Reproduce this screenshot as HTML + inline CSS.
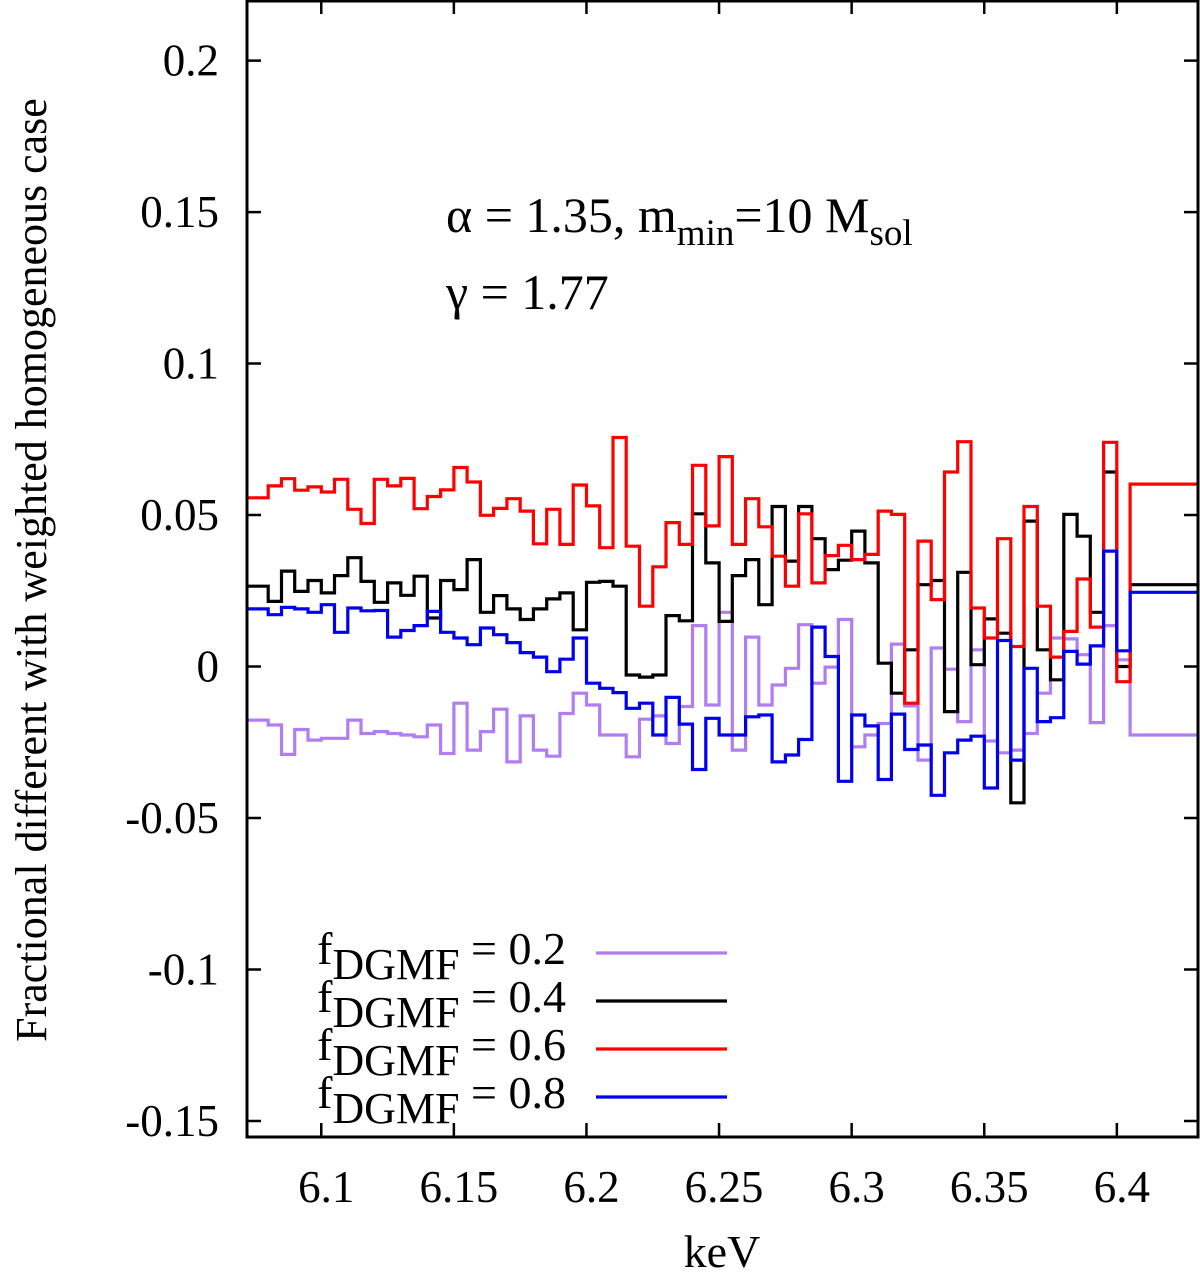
<!DOCTYPE html>
<html><head><meta charset="utf-8"><style>
html,body{margin:0;padding:0;background:#fff;}
svg{display:block;font-family:"Liberation Serif",serif;}
</style></head><body>
<svg id="chart" width="1200" height="1276" viewBox="0 0 1200 1276" xmlns="http://www.w3.org/2000/svg">
<g id="plot"></g>
<text x="722" y="1267" font-size="46" text-anchor="middle">keV</text>
<text transform="translate(46,570) rotate(-90)" font-size="44" text-anchor="middle">Fractional different with weighted homogeneous case</text>
<text x="446" y="232" font-size="50">α = 1.35, m<tspan font-size="37" dy="13">min</tspan><tspan dy="-13">=10 M</tspan><tspan font-size="37" dy="13">sol</tspan></text>
<text x="446" y="309" font-size="50">γ = 1.77</text>
</svg>
<script>
const energies = [6.072,6.080,6.085,6.090,6.095,6.100,6.105,6.110,6.115,6.120,6.125,6.130,6.135,6.140,6.145,6.150,6.155,6.160,6.165,6.170,6.175,6.180,6.185,6.190,6.195,6.200,6.205,6.210,6.215,6.220,6.225,6.230,6.235,6.240,6.245,6.250,6.255,6.260,6.265,6.270,6.275,6.280,6.285,6.290,6.295,6.300,6.305,6.310,6.315,6.320,6.325,6.330,6.335,6.340,6.345,6.350,6.355,6.360,6.365,6.370,6.375,6.380,6.385,6.390,6.395,6.400,6.405];
const f02 = [-0.0177,-0.0193,-0.0290,-0.0208,-0.0243,-0.0237,-0.0237,-0.0177,-0.0221,-0.0215,-0.0221,-0.0226,-0.0232,-0.0193,-0.0287,-0.0121,-0.0276,-0.0215,-0.0141,-0.0315,-0.0163,-0.0276,-0.0296,-0.0155,-0.0088,-0.0127,-0.0226,-0.0226,-0.0298,-0.0174,-0.0163,-0.0254,-0.0132,0.0135,-0.0127,0.0179,-0.0276,0.0097,-0.0127,-0.0061,-0.0006,0.0138,-0.0055,-0.0002,0.0155,-0.0265,-0.0226,-0.0188,0.0074,-0.0130,-0.0309,0.0061,-0.0009,-0.0182,0.0055,-0.0246,-0.0285,-0.0276,-0.0221,-0.0088,0.0094,0.0091,0.0039,-0.0185,0.0135,0.0022,-0.0226];
const f04 = [0.0265,0.0215,0.0315,0.0248,0.0284,0.0243,0.0300,0.0359,0.0281,0.0212,0.0276,0.0235,0.0298,0.0160,0.0284,0.0254,0.0353,0.0179,0.0234,0.0190,0.0155,0.0190,0.0223,0.0243,0.0121,0.0278,0.0281,0.0265,-0.0028,-0.0035,-0.0028,0.0168,0.0151,0.0504,0.0342,0.0149,0.0300,0.0353,0.0204,0.0528,0.0348,0.0528,0.0422,0.0320,0.0351,0.0447,0.0342,0.0011,-0.0088,0.0055,0.0270,0.0284,-0.0149,0.0311,0.0006,0.0157,0.0110,-0.0450,0.0480,0.0055,-0.0044,0.0502,0.0430,0.0179,0.0642,0.0000,0.0270];
const f06 = [0.0557,0.0596,0.0620,0.0582,0.0593,0.0576,0.0618,0.0519,0.0472,0.0618,0.0596,0.0621,0.0521,0.0561,0.0583,0.0657,0.0609,0.0499,0.0522,0.0554,0.0513,0.0405,0.0519,0.0403,0.0599,0.0530,0.0392,0.0756,0.0397,0.0199,0.0329,0.0475,0.0403,0.0664,0.0464,0.0693,0.0403,0.0554,0.0461,0.0364,0.0265,0.0504,0.0276,0.0366,0.0400,0.0353,0.0370,0.0513,0.0502,-0.0121,0.0414,0.0221,0.0642,0.0742,0.0193,0.0094,0.0422,0.0066,0.0528,0.0199,0.0031,0.0116,0.0289,0.0130,0.0740,-0.0050,0.0602];
const f08 = [0.0190,0.0171,0.0195,0.0190,0.0179,0.0204,0.0113,0.0193,0.0184,0.0185,0.0097,0.0119,0.0135,0.0182,0.0113,0.0094,0.0072,0.0127,0.0105,0.0079,0.0046,0.0031,-0.0017,0.0024,0.0094,-0.0055,-0.0072,-0.0086,-0.0138,-0.0121,-0.0226,-0.0102,-0.0190,-0.0340,-0.0171,-0.0226,-0.0226,-0.0166,-0.0160,-0.0315,-0.0292,-0.0241,0.0130,0.0033,-0.0379,-0.0160,-0.0196,-0.0373,-0.0157,-0.0274,-0.0259,-0.0425,-0.0285,-0.0243,-0.0230,-0.0401,0.0086,-0.0309,-0.0006,-0.0182,-0.0169,0.0050,0.0008,0.0068,0.0381,0.0052,0.0245];
const yTicks = [0.2,0.15,0.1,0.05,0,-0.05,-0.1,-0.15];
const yTickLabels = ["0.2","0.15","0.1","0.05","0","-0.05","-0.1","-0.15"];
const xTicks = [6.1,6.15,6.2,6.25,6.3,6.35,6.4];
const xTickLabels = ["6.1","6.15","6.2","6.25","6.3","6.35","6.4"];
const seriesNames = ["0.2","0.4","0.6","0.8"];

const X0=6.072, X1=6.4306, Y0=-0.1553, Y1=0.22;
const L=247, R=1198, T=0, B=1137;
function xs(v){return L+(v-X0)/(X1-X0)*(R-L);}
function ys(v){return B-(v-Y0)/(Y1-Y0)*(B-T);}
const NS="http://www.w3.org/2000/svg";
const plot=document.getElementById('plot');
function mk(tag,attrs,parent){const e=document.createElementNS(NS,tag);for(const k in attrs)e.setAttribute(k,attrs[k]);(parent||plot).appendChild(e);return e;}

const series=[[f02,"#b07ef0"],[f04,"#000000"],[f06,"#ff0000"],[f08,"#0000ee"]];
series.forEach(([vals,col],si)=>{
  let d="M"+xs(energies[0]).toFixed(1)+","+ys(vals[0]).toFixed(1);
  for(let i=1;i<vals.length;i++){
    d+="H"+xs(energies[i]).toFixed(1)+"V"+ys(vals[i]).toFixed(1);
  }
  d+="H"+xs(X1).toFixed(1);
  const p=mk('path',{d:d,fill:"none",stroke:col,"stroke-width":3.2,"stroke-linejoin":"miter"});
  
  
});

const fr=mk('rect',{x:L,y:T+1,width:R-L,height:B-T-1,fill:"none",stroke:"#000","stroke-width":3});



yTicks.forEach((t,i)=>{
  const y=ys(t);
  const a=mk('path',{d:`M${L},${y}h14M${R},${y}h-14`,stroke:"#000","stroke-width":2.5});
  
  
  const tx=mk('text',{x:219,y:y+15,"font-size":45,"text-anchor":"end"});
  tx.textContent=yTickLabels[i];
  
  
});
xTicks.forEach((t,i)=>{
  const x=xs(t);
  const a=mk('path',{d:`M${x},${B}v-14M${x},${T}v14`,stroke:"#000","stroke-width":2.5});
  
  
  const tx=mk('text',{x:x+5,y:1202,"font-size":45,"text-anchor":"middle"});
  tx.textContent=xTickLabels[i];
  
  
});

series.forEach(([vals,col],i)=>{
  const ly=953+i*48;
  const g=mk('g',{});
  
  
  const t=mk('text',{x:566,y:ly+11,"font-size":46,"text-anchor":"end"},g);
  const s1=document.createElementNS(NS,'tspan');s1.textContent='f';t.appendChild(s1);
  const s2=document.createElementNS(NS,'tspan');s2.setAttribute('font-size','44');s2.setAttribute('dy','15');s2.textContent='DGMF';t.appendChild(s2);
  const s3=document.createElementNS(NS,'tspan');s3.setAttribute('dy','-15');s3.textContent=' = '+seriesNames[i];t.appendChild(s3);
  mk('line',{x1:596,x2:727,y1:ly,y2:ly,stroke:col,"stroke-width":3.2},g);
});
</script>
</body></html>
